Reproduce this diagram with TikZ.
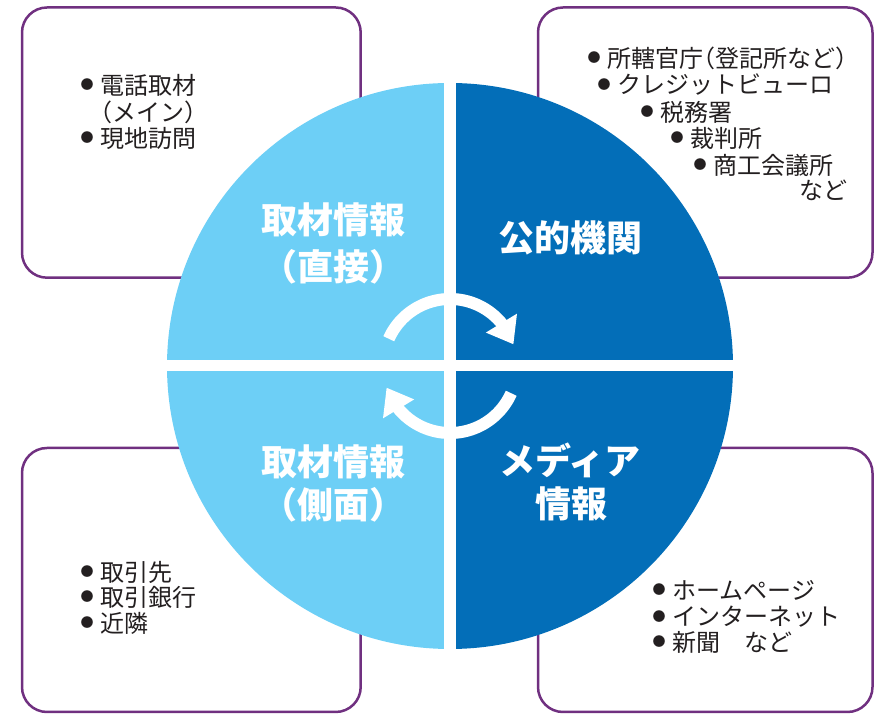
\documentclass[tikz,border=0pt]{standalone}
\usepackage{fontspec}
\newfontfamily\cjk[RawFeature=+halt]{Noto Sans CJK JP}
\usetikzlibrary{calc}
\definecolor{lb}{RGB}{109,207,246}
\definecolor{db}{RGB}{3,110,184}
\definecolor{pu}{RGB}{112,48,128}
\definecolor{tx}{RGB}{35,31,32}
\newcommand\bul{\llap{\raisebox{4.6pt}{\fontsize{13}{13}\selectfont ●}\hspace{6.5pt}}}
\tikzset{
  box/.style={draw=pu, line width=2.5pt, rounded corners=25pt, fill=white},
  item/.style={anchor=west, inner sep=0pt, text=tx, font=\cjk\fontsize{24}{26.5}\selectfont},
  big/.style={inner sep=0pt, text=white, font=\cjk\bfseries\fontsize{36}{40}\selectfont},
  cyc/.style={draw=white, line width=12pt},
}
\begin{document}
\begin{tikzpicture}[x=1pt,y=1pt]
\useasboundingbox (0,0) rectangle (875,714);
% boxes
\draw[box] (22,436.3) rectangle (360.7,706.5);
\draw[box] (538,436.3) rectangle (872.5,706.5);
\draw[box] (22,2) rectangle (360.7,266);
\draw[box] (538,2) rectangle (872.5,266);
% circle
\coordinate (C) at (450,348);
\fill[lb] (C) -- +(90:283) arc[start angle=90,end angle=180,radius=283] -- cycle;
\fill[db] (C) -- +(0:283) arc[start angle=0,end angle=90,radius=283] -- cycle;
\fill[lb] (C) -- +(180:283) arc[start angle=180,end angle=270,radius=283] -- cycle;
\fill[db] (C) -- +(270:283) arc[start angle=270,end angle=360,radius=283] -- cycle;
\draw[white, line width=12pt] ([yshift=285pt]C) -- ([yshift=-285pt]C);
\draw[white, line width=11pt] ([xshift=-285pt]C) -- ([xshift=285pt]C);
% cycle arrows
\draw[cyc] ([shift={(156:67)}]C) arc[start angle=156,end angle=38,radius=67];
\fill[white] ([shift={(43:49)}]C) -- ([shift={(38:85)}]C) -- ([shift={(19:67)}]C) -- cycle;
\draw[cyc] ([shift={(-24:67)}]C) arc[start angle=-24,end angle=-142,radius=67];
\fill[white] ([shift={(223:49)}]C) -- ([shift={(218:85)}]C) -- ([shift={(199:67)}]C) -- cycle;
% big labels
\node[big] (q1a) at (333,494) {取材情報};
\node[big] (q1b) at (333,447) {（直接）};
\node[big] (q2) at (570,476) {公的機関};
\node[big] (q3a) at (333,252) {取材情報};
\node[big] (q3b) at (333,209) {（側面）};
\node[big] (q4a) at (570,254) {メディア};
\node[big] (q4b) at (571,210) {情報};
% top-left list
\node[item] (tl1) at (100,629) {\bul 電話取材};
\node[item] (tl2) at (100,602) {（メイン）};
\node[item] (tl3) at (100,576) {\bul 現地訪問};
% top-right list
\node[item] (tr1) at (607,656) {\bul 所轄官庁（登記所など）};
\node[item] (tr2) at (617,629) {\bul クレジットビューロ};
\node[item] (tr3) at (660,602) {\bul 税務署};
\node[item] (tr4) at (690,576) {\bul 裁判所};
\node[item] (tr5) at (713,549) {\bul 商工会議所};
\node[item, anchor=east] (tr6) at (848,524) {など};
% bottom-left list
\node[item] (bl1) at (100,142) {\bul 取引先};
\node[item] (bl2) at (100,117) {\bul 取引銀行};
\node[item] (bl3) at (100,91) {\bul 近隣};
% bottom-right list
\node[item] (br1) at (672,124) {\bul ホームページ};
\node[item] (br2) at (672,97) {\bul インターネット};
\node[item] (br3) at (672,72) {\bul 新聞\hspace{24pt}など};
\end{tikzpicture}
\end{document}
